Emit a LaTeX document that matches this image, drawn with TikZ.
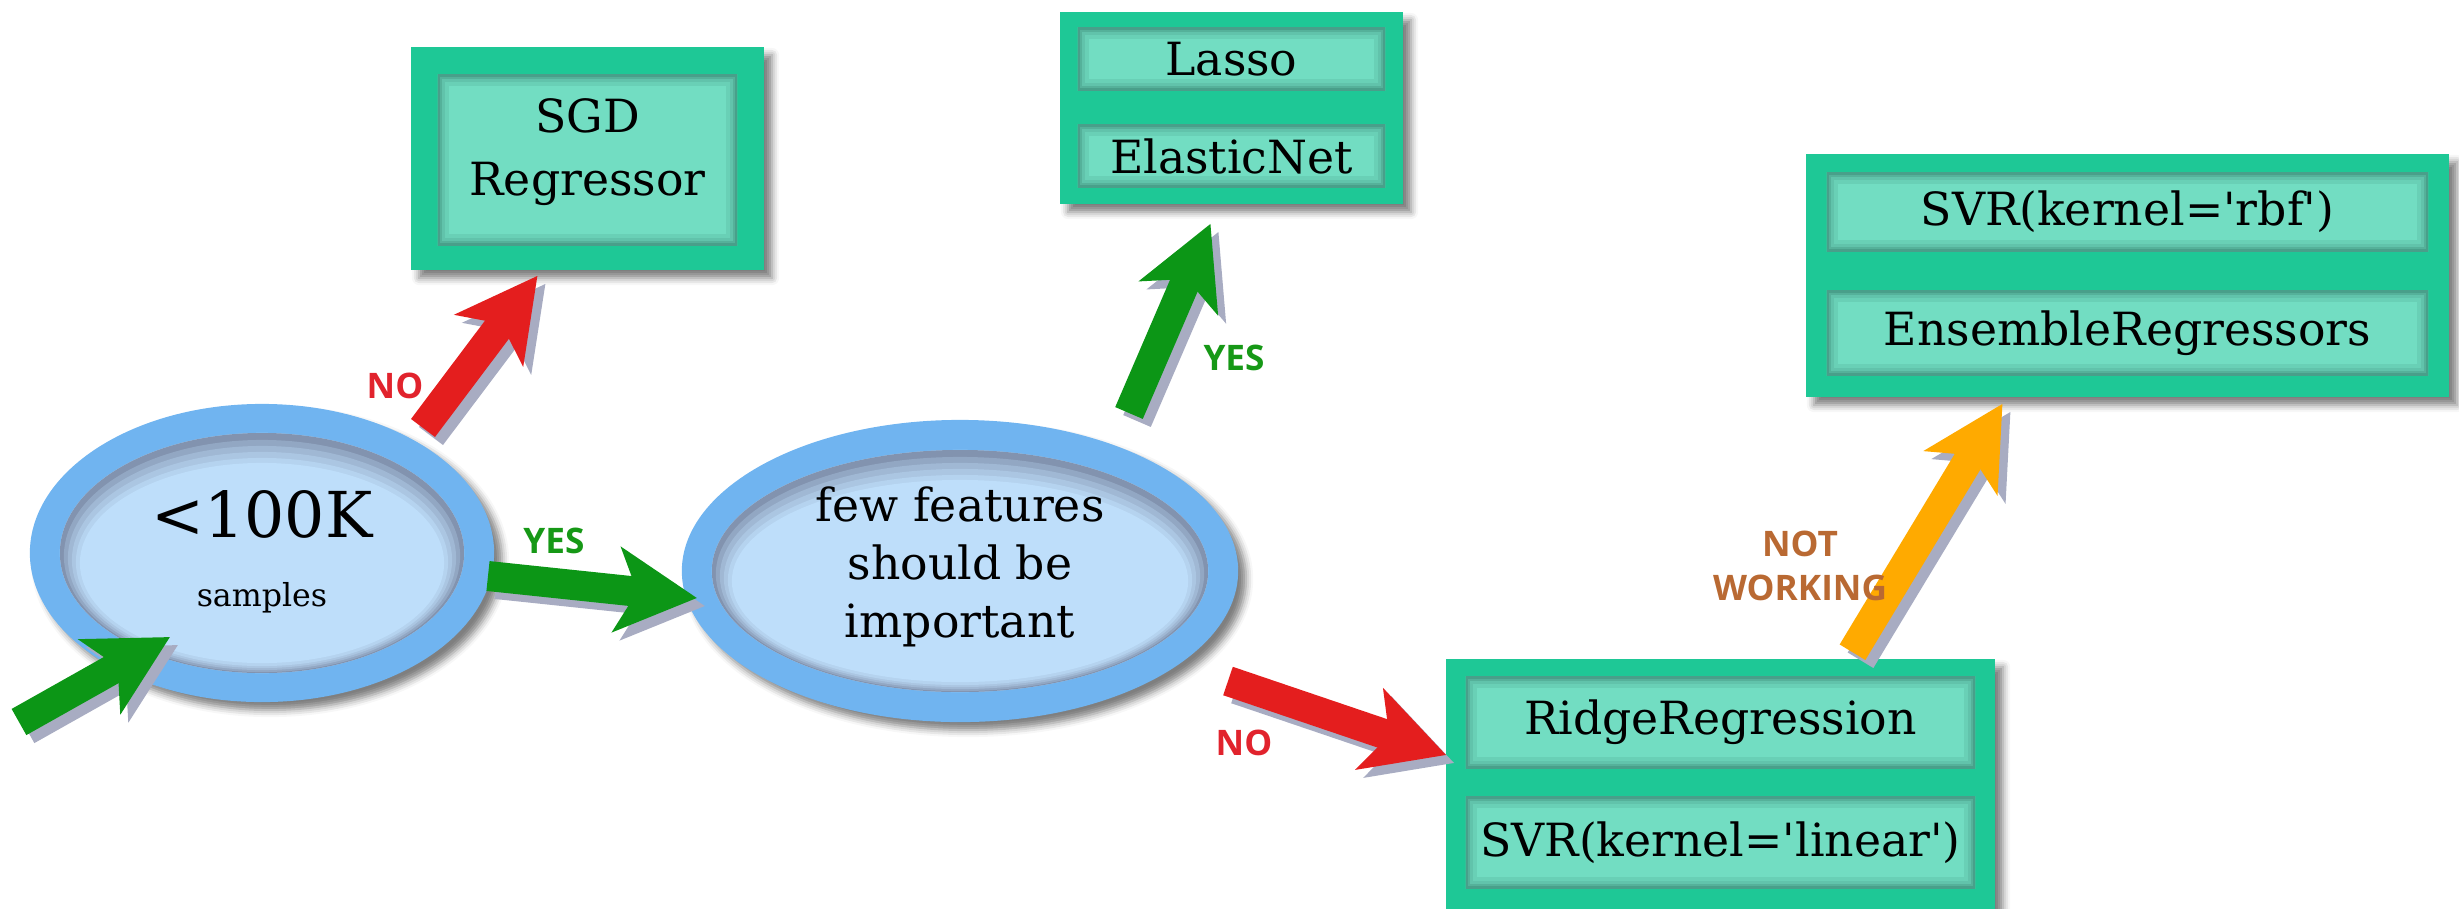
\documentclass[tikz,border=0pt]{standalone}
\usepackage{fontspec}
\setmainfont{DejaVu Serif}
\newfontfamily\labfont{Open Sans}
\usetikzlibrary{arrows.meta,shapes.geometric,shadows.blur,calc}

\definecolor{ring}{RGB}{112,180,240}
\definecolor{ellin}{RGB}{190,222,250}
\definecolor{elledge}{RGB}{110,122,150}
\definecolor{boxrim}{RGB}{30,200,150}
\definecolor{panelc}{RGB}{114,221,194}
\definecolor{paneledge}{RGB}{66,148,128}
\definecolor{agreen}{RGB}{12,150,22}
\definecolor{ared}{RGB}{228,30,30}
\definecolor{aorange}{RGB}{255,170,0}
\definecolor{lgreen}{RGB}{22,152,22}
\definecolor{lred}{RGB}{225,35,45}
\definecolor{lbrown}{RGB}{185,105,50}
\definecolor{arshadow}{RGB}{168,172,194}

\newcommand{\sq}{\textquotesingle}

\tikzset{
  dropshadow/.style={blur shadow={shadow xshift=0.08cm, shadow yshift=-0.08cm,
      shadow blur radius=0.07cm, shadow opacity=50}},
  outerell/.style={ellipse, fill=ring, inner sep=0pt, dropshadow},
  % inner ellipse with a soft inset shadow, heavier along the top edge
  innerell/.style={ellipse, fill=ellin, inner sep=0pt, align=center,
    path picture={
      \fill[elledge!75!ellin] (path picture bounding box.south west) rectangle (path picture bounding box.north east);
      \foreach \d/\s/\c in {4/3/55, 8/5/38, 12/7/24, 16/9/11, 20/10/0}{
        \fill[elledge!\c!ellin] let \p1=(path picture bounding box.north east),
                \p2=(path picture bounding box.center) in
          ([yshift=-\s*0.01cm]\p2) ellipse [x radius=\x1-\x2-\d*0.01cm, y radius=\y1-\y2-\d*0.01cm];
      }
    }},
  boxout/.style={rectangle, fill=boxrim, inner sep=0pt, dropshadow},
  panel/.style={rectangle, fill=panelc, inner sep=0pt, align=center,
    font=\fontsize{13}{18}\selectfont,
    path picture={
      \foreach \w/\c in {22/18,15/35,9/60,4/85}{
        \draw[line width=\w*0.01cm, paneledge!\c!panelc]
          (path picture bounding box.south west) rectangle (path picture bounding box.north east);
      }
    }},
  txt/.style={inner sep=0pt, align=center, font=\fontsize{13}{18}\selectfont},
  fat/.style={line width=0.30cm,
    -{Stealth[length=0.8cm, width=0.84cm, inset=0.2cm]}},
  lab/.style={font=\labfont\bfseries\fontsize{10}{12}\selectfont, align=center, inner sep=0pt},
}

% block arrow with a soft offset shadow
\newcommand{\blockarrow}[3]{%
  \draw[fat, arshadow, transform canvas={shift={(0.08cm,-0.08cm)}}] #2 -- #3;
  \draw[fat, #1] #2 -- #3;
}

\begin{document}
\begin{tikzpicture}[x=0.01cm, y=-0.01cm]
\useasboundingbox (0,0) rectangle (2459,908);

% decision ellipses
\node[outerell, minimum width=4.64cm, minimum height=2.98cm] (e1) at (262,553) {};
\node[innerell, minimum width=4.04cm, minimum height=2.40cm] (e1in) at (262,553) {};
\node[txt] (e1txt) at (262,552)
  {{\fontsize{18}{20}\selectfont <100K}\\[1.5pt]{\fontsize{9}{11}\selectfont samples}};

\node[outerell, minimum width=5.56cm, minimum height=3.02cm] (e2) at (960,571) {};
\node[innerell, minimum width=4.96cm, minimum height=2.42cm] (e2in) at (960,571) {};
\node[txt, font=\fontsize{13}{16.5}\selectfont] (e2txt) at (960,567)
  {few features\\should be\\important};

% estimator boxes
\node[boxout, minimum width=3.53cm, minimum height=2.23cm] (sgd) at (587.5,158.5) {};
\node[panel, minimum width=2.99cm, minimum height=1.70cm] (sgdin) at (587.5,160) {};
\node[txt] (sgdtxt) at (587.5,152) {SGD\\Regressor};

\node[boxout, minimum width=3.43cm, minimum height=1.92cm] (lbox) at (1231.5,108) {};
\node[panel, minimum width=3.07cm, minimum height=0.62cm] (lasso) at (1231.5,59) {Lasso};
\node[panel, minimum width=3.07cm, minimum height=0.62cm] (enet) at (1231.5,156) {ElasticNet};

\node[boxout, minimum width=6.43cm, minimum height=2.43cm] (sbox) at (2127.5,275.5) {};
\node[panel, minimum width=6.01cm, minimum height=0.78cm] (rbf) at (2127.5,212) {SVR(kernel=\sq rbf\sq)};
\node[panel, minimum width=6.01cm, minimum height=0.84cm] (ens) at (2127.5,333) {EnsembleRegressors};

\node[boxout, minimum width=5.49cm, minimum height=2.62cm] (rbox) at (1720.5,790) {};
\node[panel, minimum width=5.09cm, minimum height=0.91cm] (ridge) at (1720.5,722.5) {RidgeRegression};
\node[panel, minimum width=5.09cm, minimum height=0.91cm] (lin) at (1720.5,842.5) {SVR(kernel=\sq linear\sq)};

% connectors
\coordinate (entry) at (19,722);
\blockarrow{agreen}{(entry)}{([shift={(-92,84)}]e1.center)}
\blockarrow{ared}{([shift={(161,-125)}]e1.center)}{([shift={(-50,5)}]sgd.south)}
\blockarrow{agreen}{([shift={(226,23)}]e1.center)}{([shift={(-263,27)}]e2.center)}
\blockarrow{agreen}{([shift={(169,-158)}]e2.center)}{([shift={(-21,19)}]lbox.south)}
\blockarrow{ared}{([shift={(268,110)}]e2.center)}{([shift={(1,-35)}]rbox.west)}
\blockarrow{aorange}{([shift={(132,-6)}]rbox.north)}{([shift={(-125,6)}]sbox.south)}

% branch labels
\node[lab, lred] (no1) at (395,386) {NO};
\node[lab, lgreen] (yes1) at (554,541) {YES};
\node[lab, lgreen] (yes2) at (1234,358) {YES};
\node[lab, lred] (no2) at (1244,743) {NO};
\node[lab, lbrown, font=\labfont\bfseries\fontsize{10}{12.5}\selectfont] (nw) at (1800,566) {NOT\\WORKING};
\end{tikzpicture}
\end{document}
